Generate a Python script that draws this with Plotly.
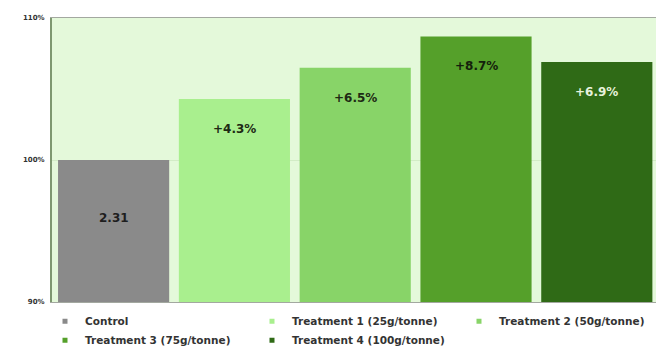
import plotly.graph_objects as go

categories = ["Control", "Treatment 1 (25g/tonne)", "Treatment 2 (50g/tonne)",
              "Treatment 3 (75g/tonne)", "Treatment 4 (100g/tonne)"]
values = [100.0, 104.3, 106.5, 108.7, 106.9]
bar_labels = ["2.31", "+4.3%", "+6.5%", "+8.7%", "+6.9%"]
colors = ["#8a8a8a", "#a9ef8e", "#88d468", "#55a02a", "#2f6a16"]
label_colors = ["#1e1e1e", "#1e2a14", "#1e2a14", "#14200c", "#e6f2dc"]
label_shift = [-58, -30, -30, -30, -30]
tick_vals = [90, 100, 110]
tick_text = ["90%", "100%", "110%"]

FONT = "DejaVu Sans"

fig = go.Figure()
fig.add_trace(go.Bar(
    x=list(range(len(categories))), y=values,
    marker=dict(color=colors, line=dict(width=0)),
    width=0.92, showlegend=False, hoverinfo="skip",
))
for name, c in zip(categories, colors):
    fig.add_trace(go.Scatter(
        x=[None], y=[None], mode="markers", name=f"<b>{name}</b>",
        marker=dict(symbol="square", size=5, color=c),
    ))

for i, (v, t, tc, s) in enumerate(zip(values, bar_labels, label_colors, label_shift)):
    fig.add_annotation(x=i, y=v, text=f"<b>{t}</b>", showarrow=False,
                       yshift=s, font=dict(family=FONT, size=12, color=tc))

fig.update_layout(
    width=656, height=347,
    margin=dict(l=52, r=0, t=18, b=45, autoexpand=False),
    paper_bgcolor="white", plot_bgcolor="#e4f9da",
    xaxis=dict(range=[-0.51, 4.49], showticklabels=False, ticks="",
               showgrid=False, zeroline=False,
               showline=True, linecolor="#a3a8a0", linewidth=1, mirror=True),
    yaxis=dict(range=[90, 110], tickvals=tick_vals,
               ticktext=[f"<b>{t}</b>" for t in tick_text],
               tickfont=dict(family=FONT, size=7, color="#333333"),
               showgrid=True, gridcolor="#d2ecc6", gridwidth=1, zeroline=False,
               showline=True, linecolor="#7e9870", linewidth=2,
               ticks="", ticklabelstandoff=4),
    legend=dict(orientation="h", x=-0.0116, y=-0.017, xanchor="left", yanchor="top",
                entrywidth=162, entrywidthmode="pixels",
                font=dict(family=FONT, size=10.5, color="#333333"),
                bgcolor="rgba(0,0,0,0)", itemwidth=30, tracegroupgap=0),
)

fig.write_html("out.html")
